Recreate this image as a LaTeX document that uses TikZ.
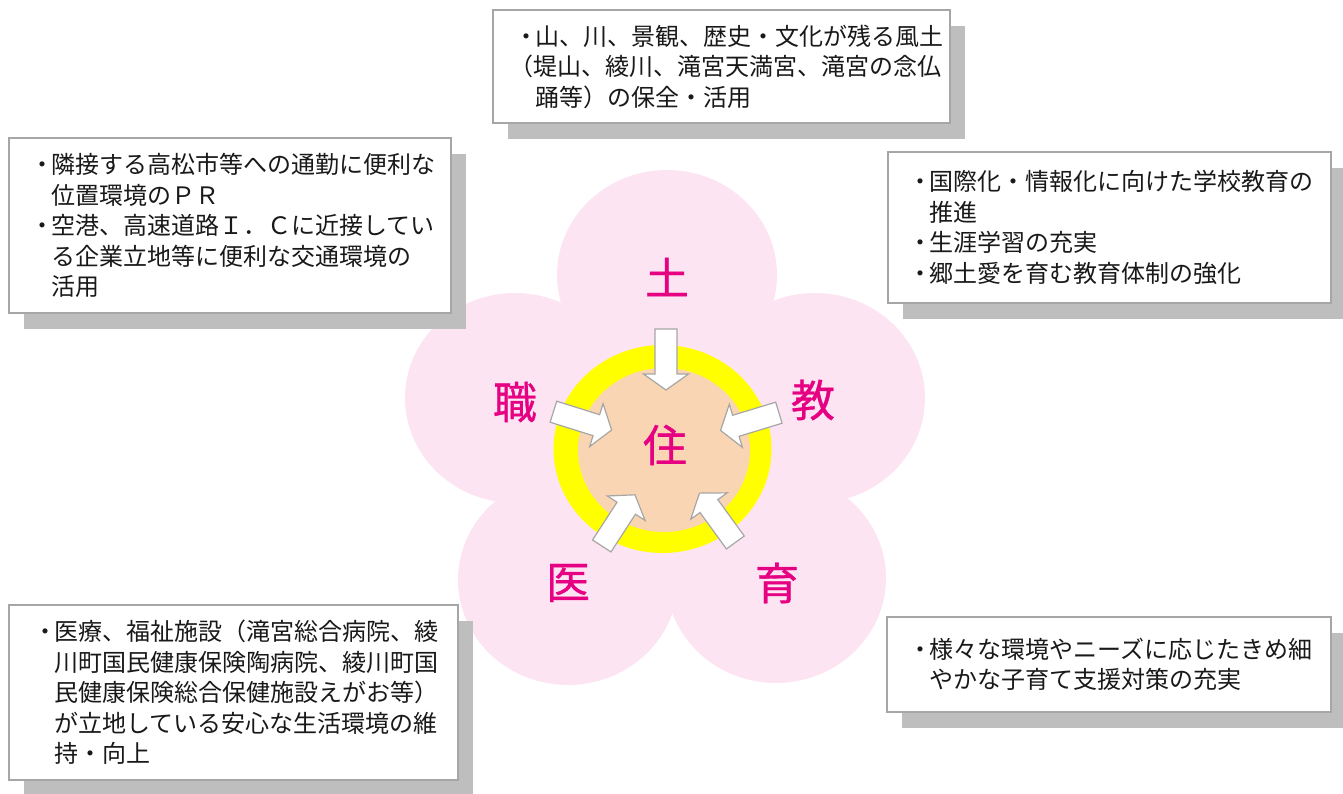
\documentclass[tikz,border=0pt]{standalone}
\usepackage{fontspec}
\newfontfamily\jpfont{Noto Sans CJK JP}
\newfontfamily\jplabel[FakeBold=0.8]{Noto Sans CJK JP}
\usetikzlibrary{shadows}
\definecolor{petalc}{RGB}{253,228,243}
\definecolor{shadowc}{RGB}{190,190,190}
\definecolor{borderc}{RGB}{166,166,166}
\definecolor{ringc}{RGB}{255,255,0}
\definecolor{corec}{RGB}{249,213,179}
\definecolor{labelc}{RGB}{230,0,130}
\definecolor{textc}{RGB}{25,25,25}
\newcommand\bul{\makebox[18pt][c]{・}}
\newcommand\ind{\hspace*{18pt}}
\newcommand\blockarrow[1]{%
  \begin{scope}[shift={(666,447)}, rotate=#1]
    \draw[barrow] (118,-11) -- (73,-11) -- (73,-22.5) -- (57,0) -- (73,22.5) -- (73,11) -- (118,11) -- cycle;
  \end{scope}}
\begin{document}
\begin{tikzpicture}[x=1pt,y=-1pt,
  infobox/.style={draw=borderc, fill=white, line width=1.3pt, inner sep=0pt, outer sep=0pt, anchor=north west,
    drop shadow={shadow xshift=15pt, shadow yshift=-16pt, fill=shadowc, opacity=1}},
  infotext/.style={font=\jpfont\fontsize{24}{30.5}\selectfont, align=left, anchor=west, inner sep=0pt, text=textc},
  petal/.style={fill=petalc},
  kanji/.style={font=\jplabel\fontsize{44}{50}\selectfont, text=labelc, inner sep=0pt},
  barrow/.style={fill=white, draw=borderc, line width=1.2pt, line join=miter}
]
\useasboundingbox (0,0) rectangle (1343,794);
% petals
\fill[petal] (667,275) ellipse [x radius=110pt, y radius=105pt];
\fill[petal] (515,398) ellipse [x radius=110pt, y radius=105pt];
\fill[petal] (815,398) ellipse [x radius=110pt, y radius=105pt];
\fill[petal] (568,580) ellipse [x radius=110pt, y radius=105pt];
\fill[petal] (776,578) ellipse [x radius=110pt, y radius=105pt];
% boxes
\node[infobox, minimum width=457pt, minimum height=113pt] (tb) at (493,10) {};
\node[infobox, minimum width=442pt, minimum height=175pt] (lb) at (9,138) {};
\node[infobox, minimum width=443pt, minimum height=151pt] (rb) at (888,152) {};
\node[infobox, minimum width=449pt, minimum height=175pt] (blb) at (9,605) {};
\node[infobox, minimum width=444pt, minimum height=95pt] (brb) at (887,617) {};
% texts
\node[infotext] (tbt) at ([xshift=24pt]tb.west) {\bul 山、川、景観、歴史・文化が残る風土\\\hspace*{-8pt}（堤山、綾川、滝宮天満宮、滝宮の念仏\\\ind 踊等）の保全・活用};
\node[infotext] (lbt) at ([xshift=24pt]lb.west) {\bul 隣接する高松市等への通勤に便利な\\\ind 位置環境のＰＲ\\\bul 空港、高速道路Ｉ．Ｃに近接してい\\\ind る企業立地等に便利な交通環境の\\\ind 活用};
\node[infotext] (rbt) at ([xshift=23pt]rb.west) {\bul 国際化・情報化に向けた学校教育の\\\ind 推進\\\bul 生涯学習の充実\\\bul 郷土愛を育む教育体制の強化};
\node[infotext] (blbt) at ([xshift=27pt]blb.west) {\bul 医療、福祉施設（滝宮総合病院、綾\\\ind 川町国民健康保険陶病院、綾川町国\\\ind 民健康保険総合保健施設えがお等）\\\ind が立地している安心な生活環境の維\\\ind 持・向上};
\node[infotext] (brbt) at ([xshift=24pt]brb.west) {\bul 様々な環境やニーズに応じたきめ細\\\ind やかな子育て支援対策の充実};
% ring and core
\fill[ringc] (662.5,449) ellipse [x radius=109pt, y radius=104pt];
\fill[corec] (664,450) ellipse [x radius=86pt, y radius=82pt];
% arrows
\blockarrow{90}
\blockarrow{162.6}
\blockarrow{16.9}
\blockarrow{237}
\blockarrow{306}
% labels
\node[kanji] (do) at (667,277) {土};
\node[kanji] (shoku) at (515,402) {職};
\node[kanji] (kyo) at (813,400) {教};
\node[kanji] (i) at (568,583) {医};
\node[kanji] (iku) at (777,583) {育};
\node[kanji] (ju) at (665,445) {住};
\end{tikzpicture}
\end{document}
